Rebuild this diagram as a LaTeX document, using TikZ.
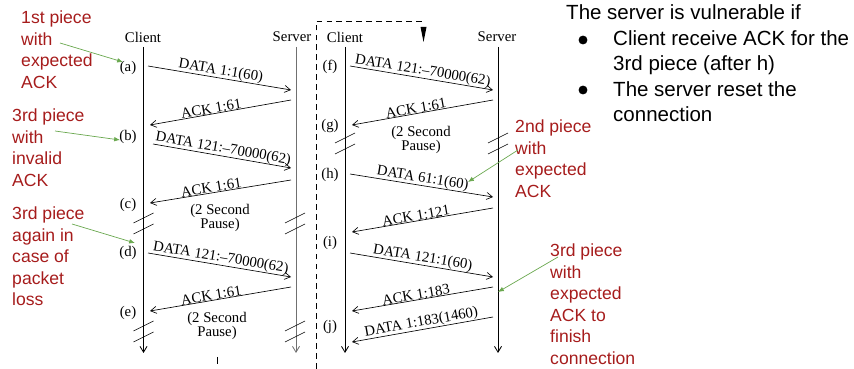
\documentclass[tikz,border=0pt]{standalone}
\usepackage{fontspec}
\setmainfont{Liberation Serif}
\newfontfamily\slidefont{Liberation Sans}
\usetikzlibrary{arrows.meta}
\definecolor{notered}{HTML}{A61C1C}
\definecolor{notegreen}{HTML}{6AA84F}
\definecolor{linegray}{HTML}{707070}
\newcommand{\pausebreak}[2]{%
  \draw[line width=0.55pt] (#1-10,#2+5) -- (#1+10,#2-5);
  \draw[line width=0.55pt] (#1-10,#2+16) -- (#1+10,#2+6);}

\begin{document}
\begin{tikzpicture}[x=0.03cm, y=-0.03cm,
  lbl/.style={font=\fontsize{12.6}{12.4}\selectfont, inner sep=0pt},
  msg/.style={line width=0.55pt, -{Straight Barb[length=5pt,width=6pt]}},
  life/.style={line width=0.7pt, -{Straight Barb[length=5pt,width=6pt]}},
  note/.style={font=\slidefont\fontsize{15}{18.35}\selectfont, text=notered, align=left, inner sep=0pt, anchor=north west},
  claim/.style={font=\slidefont\fontsize{17.5}{21.6}\selectfont, align=left, inner sep=0pt},
  pointer/.style={notegreen, line width=0.6pt, -{Latex[length=5pt,width=4pt]}}]
  \useasboundingbox (0,0) rectangle (854,369);

  % lifelines with their headers
  \foreach \nm/\x/\tx/\cl/\lab in {lc/143.5/143/black/Client, ls/296/292/linegray/Server, rc/345/345/black/Client, rs/498/497/black/Server}{
    \node[lbl] (\nm) at (\tx,37) {\lab};
    \coordinate (\nm top) at (\x,47);
    \coordinate (\nm end) at (\x,353);
    \draw[life, \cl] (\nm top) -- (\nm end);
  }

  % messages
  \foreach \i/\xa/\ya/\xb/\yb/\p/\txt in {
      1/148/66/291/90/0.5/DATA 1:1(60),
      2/291/100/150/125/0.56/ACK 1:61,
      3/153/144/291/168/0.5/DATA 121:–70000(62),
      4/291/180/150/203/0.56/ACK 1:61,
      5/148/253/291/277/0.5/DATA 121:–70000(62),
      6/291/287/150/311/0.56/ACK 1:61,
      7/350/66/493/90/0.5/DATA 121:–70000(62),
      8/493/100/352/125/0.54/ACK 1:61,
      9/350/174/493/197/0.5/DATA 61:1(60),
      10/493/208/352/232/0.54/ACK 1:121,
      11/350/253/493/277/0.5/DATA 121:1(60),
      12/493/287/352/311/0.54/ACK 1:183,
      13/493/317/352/342/0.5/DATA 1:183(1460)}{
    \coordinate (m\i a) at (\xa,\ya);
    \coordinate (m\i b) at (\xb,\yb);
    \draw[msg] (m\i a) -- (m\i b) node[lbl, sloped, above, pos=\p] {\txt};
  }

  % steps
  \foreach \nm/\x/\y in {a/128/68, b/128/137, c/128/205, d/128/253, e/128/313, f/330/67, g/330/126, h/330/175, i/330/243, j/330/327}
    \node[lbl] (st\nm) at (\x,\y) {(\nm)};

  % pauses
  \foreach \nm/\x/\y in {pc/220/218, pe/217/326, pg/421/140}
    \node[lbl, align=center] (\nm) at (\x,\y) {(2 Second\\Pause)};
  \pausebreak{143.5}{218}
  \pausebreak{295}{218}
  \pausebreak{143.5}{326}
  \pausebreak{295}{326}
  \pausebreak{345}{138}
  \pausebreak{498}{138}

  % frame round the second run
  \draw[line width=0.6pt, dash pattern=on 5pt off 3.5pt] (316,369) -- (316,21) -- (425,21);
  \fill (420.5,27) -- (426.5,27) -- (423.5,42) -- cycle;
  \draw[line width=0.6pt] (217,357) -- (217,364);

  % red notes
  \node[note] (n1) at (21,11) {1st piece\\with\\expected\\ACK};
  \node[note] (n2) at (12,109) {3rd piece\\with\\invalid\\ACK};
  \node[note] (n3) at (12,207) {3rd piece\\again in\\case of\\packet\\loss};
  \node[note] (n4) at (515,120) {2nd piece\\with\\expected\\ACK};
  \node[note] (n5) at (550,244) {3rd piece\\with\\expected\\ACK to\\finish\\connection};

  \foreach \i/\xa/\ya/\xb/\yb in {1/60/43/123/62, 2/55/131/120/140, 3/72/224/135/243, 4/518/150/468/182, 5/558/257/498/292}{
    \coordinate (p\i) at (\xa,\ya);
    \coordinate (q\i) at (\xb,\yb);
    \draw[pointer] (p\i) -- (q\i);
  }

  % conditions
  \node[claim, anchor=base west] (title) at (566,20) {The server is vulnerable if};
  \node[claim, anchor=north west] (item1) at (613,30) {Client receive ACK for the\\3rd piece (after h)};
  \node[claim, anchor=north west] (item2) at (613,81) {The server reset the\\connection};
  \fill (583,40) circle (3.8pt);
  \fill (583,90) circle (3.8pt);
\end{tikzpicture}
\end{document}
